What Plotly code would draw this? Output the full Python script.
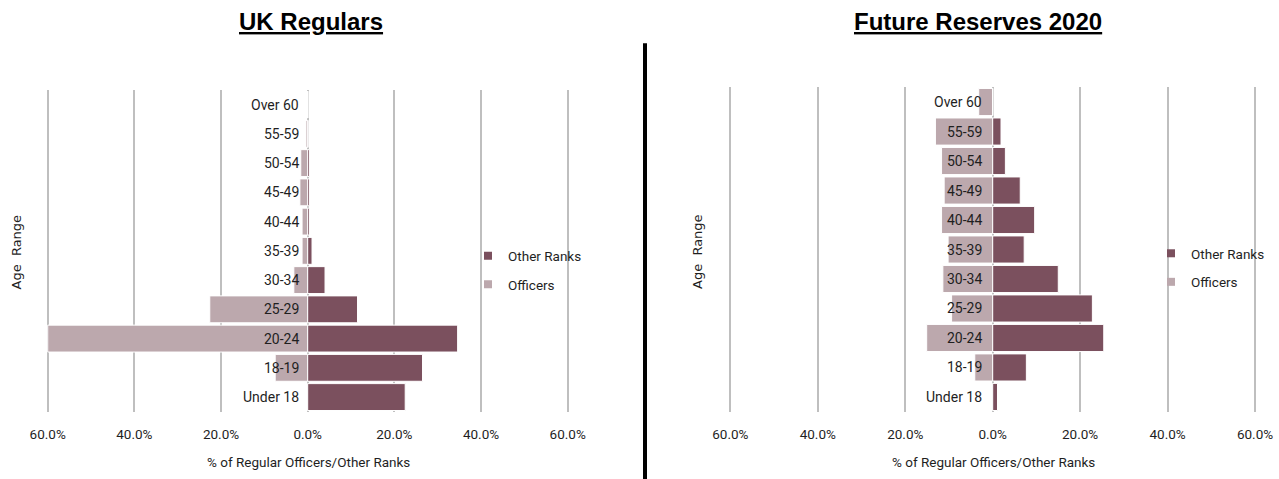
import plotly.graph_objects as go

ages = ["Under 18", "18-19", "20-24", "25-29", "30-34", "35-39",
        "40-44", "45-49", "50-54", "55-59", "Over 60"]
uk_officers = [0.0, 7.5, 60.0, 22.6, 3.2, 1.3, 1.3, 1.8, 1.6, 0.4, 0.0]
uk_other = [22.5, 26.5, 34.6, 11.5, 4.0, 1.0, 0.4, 0.4, 0.4, 0.1, 0.0]
fr_officers = [0.0, 4.1, 15.1, 9.4, 11.4, 10.2, 11.7, 11.1, 11.7, 13.1, 3.2]
fr_other = [1.1, 7.7, 25.4, 22.8, 15.0, 7.2, 9.6, 6.3, 2.9, 1.9, 0.0]
tick_vals = [-60, -40, -20, 0, 20, 40, 60]
tick_text = ["60.0%", "40.0%", "20.0%", "0.0%", "20.0%", "40.0%", "60.0%"]
titles = ["UK Regulars", "Future Reserves 2020"]

C_OTHER = "#7B505E"
C_OFF = "#BCA8AD"
W, H = 1279, 479
FONT = "Roboto"
TXT = "#1f1f1f"

fig = go.Figure()

panels = [
    dict(off=uk_officers, oth=uk_other, xa="x", ya="y", leg="legend"),
    dict(off=fr_officers, oth=fr_other, xa="x2", ya="y2", leg="legend2"),
]
for p in panels:
    fig.add_trace(go.Bar(y=ages, x=[-v for v in p["off"]], orientation="h",
                         customdata=p["off"], name="Officers",
                         hovertemplate="%{y}: %{customdata:.1f}%<extra>Officers</extra>",
                         marker=dict(color=C_OFF, line=dict(color="white", width=1)),
                         xaxis=p["xa"], yaxis=p["ya"], showlegend=False))
    fig.add_trace(go.Bar(y=ages, x=p["oth"], orientation="h", name="Other Ranks",
                         hovertemplate="%{y}: %{x:.1f}%<extra>Other Ranks</extra>",
                         marker=dict(color=C_OTHER, line=dict(color="white", width=1)),
                         xaxis=p["xa"], yaxis=p["ya"], showlegend=False))
    # legend entries
    for nm, col, grp in [("Other Ranks", C_OTHER, "a"), ("Officers", C_OFF, "b")]:
        fig.add_trace(go.Scatter(x=[None], y=[None], mode="markers", name=nm,
                                 marker=dict(symbol="square", size=8, color=col),
                                 legend=p["leg"], legendgroup=grp + p["leg"],
                                 xaxis=p["xa"], yaxis=p["ya"], hoverinfo="skip"))

def px2x(v):
    return v / W

def px2y(v):
    return 1 - v / H

xcommon = dict(range=[-61, 61], tickvals=tick_vals, ticktext=tick_text,
               showgrid=True, gridcolor="#BFBFBF", gridwidth=2, zeroline=False,
               showline=False, ticks="outside", ticklen=10, tickcolor="rgba(0,0,0,0)",
               tickfont=dict(family=FONT, size=13.5, color=TXT), fixedrange=True,
               automargin=False)
ycommon = dict(type="category", categoryorder="array", categoryarray=ages,
               range=[-0.5, 10.5], showticklabels=False, showgrid=False,
               zeroline=False, showline=False, fixedrange=True, automargin=False)

fig.update_layout(
    width=W, height=H,
    margin=dict(l=0, r=0, t=0, b=0, autoexpand=False),
    paper_bgcolor="white", plot_bgcolor="white",
    barmode="relative", bargap=0.08,
    xaxis=dict(domain=[px2x(43.4), px2x(572.0)], anchor="y", **xcommon),
    yaxis=dict(domain=[px2y(411.7), px2y(90)], anchor="x", **ycommon),
    xaxis2=dict(domain=[px2x(726.0), px2x(1259.4)], anchor="y2", **xcommon),
    yaxis2=dict(domain=[px2y(411.7), px2y(87.3)], anchor="x2", **ycommon),
    legend=dict(x=px2x(468), y=px2y(240.5), xanchor="left", yanchor="top",
                font=dict(family=FONT, size=13.5, color=TXT),
                bgcolor="rgba(0,0,0,0)", traceorder="grouped", tracegroupgap=8),
    legend2=dict(x=px2x(1151), y=px2y(238), xanchor="left", yanchor="top",
                 font=dict(family=FONT, size=13.5, color=TXT),
                 bgcolor="rgba(0,0,0,0)", traceorder="grouped", tracegroupgap=8),
    showlegend=True,
)

ann = []
# category labels next to zero
for xr, yr, sh in [("x", "y", -7), ("x2", "y2", -9)]:
    for a in ages:
        ann.append(dict(x=0, y=a, xref=xr, yref=yr, text=a, showarrow=False,
                        xanchor="right", xshift=sh,
                        font=dict(family=FONT, size=14, color=TXT)))
# titles
for t, cx in zip(titles, [310.5, 978]):
    ann.append(dict(x=px2x(cx), y=px2y(22), xref="paper", yref="paper",
                    text=f"<b><u>{t}</u></b>", showarrow=False,
                    xanchor="center", yanchor="middle",
                    font=dict(family="Liberation Sans, Arial, sans-serif", size=24, color="black")))
# axis titles
for cx in [308, 993]:
    ann.append(dict(x=px2x(cx), y=px2y(462), xref="paper", yref="paper",
                    text="% of Regular Officers/Other Ranks", showarrow=False,
                    xanchor="center", yanchor="middle",
                    font=dict(family=FONT, size=13.5, color=TXT)))
for cx, cy in [(15.5, 252), (697, 252)]:
    ann.append(dict(x=px2x(cx), y=px2y(cy), xref="paper", yref="paper",
                    text="Age\u00a0\u00a0Range", showarrow=False, textangle=-90,
                    xanchor="center", yanchor="middle",
                    font=dict(family="DejaVu Sans", size=13, color=TXT)))
fig.update_layout(annotations=ann)

fig.add_shape(type="line", xref="paper", yref="paper",
              x0=px2x(645), x1=px2x(645), y0=px2y(43.3), y1=0,
              line=dict(color="black", width=4))

fig.write_html("out.html", config={"displayModeBar": False},
               post_script="document.body.style.margin='0';document.body.style.overflow='hidden';")
